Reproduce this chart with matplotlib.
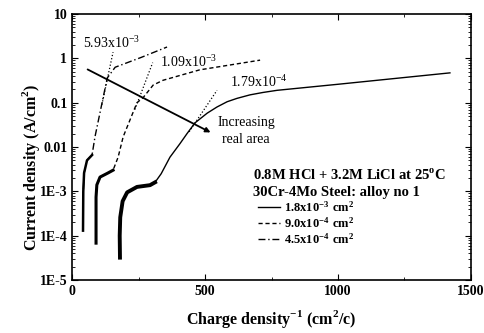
import matplotlib.pyplot as plt
from matplotlib.ticker import FixedLocator, LogLocator, NullFormatter, MultipleLocator

plt.rcParams["font.family"] = ["Liberation Serif", "DejaVu Serif"]
plt.rcParams["mathtext.fontset"] = "custom"
plt.rcParams["mathtext.rm"] = "Liberation Serif"
plt.rcParams["mathtext.bf"] = "Liberation Serif:bold"

# 1.8x10^-3 cm2 (solid)
x_a = [180, 179, 181, 190, 207, 244, 293, 312, 335, 368, 406, 432, 462, 508, 545, 583, 620,
       669, 718, 771, 1000, 1421]
y_a = [3.2e-5, 1e-4, 2.6e-4, 6e-4, 9.5e-4, 1.26e-3, 1.38e-3, 1.6e-3, 2.5e-3, 5.9e-3, 0.012,
       0.02, 0.035, 0.058, 0.08, 0.105, 0.125, 0.15, 0.17, 0.19, 0.26, 0.47]
n_thick_a = 8
# 9.0x10^-4 cm2 (dashed)
x_b = [90, 90, 93, 105, 135, 154, 173, 192, 244, 267, 305, 342, 480, 707]
y_b = [6.8e-5, 7.4e-4, 1.4e-3, 2.1e-3, 2.6e-3, 3.0e-3, 5.9e-3, 0.017, 0.1, 0.13, 0.25,
       0.32, 0.55, 0.91]
n_thick_b = 6
# 4.5x10^-4 cm2 (dash-dot)
x_c = [41, 42, 45, 56, 75, 86, 132, 162, 260, 357]
y_c = [1.3e-4, 1e-3, 2.6e-3, 5e-3, 6.6e-3, 0.017, 0.36, 0.63, 1.05, 1.8]
n_thick_c = 5

# tangents (dotted)
tan_a = ([440, 545], [0.022, 0.19])
tan_b = ([236, 303], [0.07, 0.8])
tan_c = ([112, 154], [0.09, 1.38])

arrow_start = (49, 0.6)
arrow_end = (530, 0.02)

fig, ax = plt.subplots(figsize=(4.84, 3.33), dpi=100)
fig.subplots_adjust(left=0.149, right=0.973, bottom=0.159, top=0.958)

ax.plot(x_a, y_a, "k-", lw=1.0, label=r"$\mathbf{1.8x10^{-3}\ cm^2}$")
ax.plot(x_b, y_b, "k--", lw=1.0, dashes=(3, 2), label=r"$\mathbf{9.0x10^{-4}\ cm^2}$")
ax.plot(x_c, y_c, "k-.", lw=1.0, dashes=(5, 2, 1, 2), label=r"$\mathbf{4.5x10^{-4}\ cm^2}$")
ax.plot(x_a[:n_thick_a], y_a[:n_thick_a], "k-", lw=2.8)
ax.plot(x_b[:n_thick_b], y_b[:n_thick_b], "k-", lw=2.2)
ax.plot(x_c[:n_thick_c], y_c[:n_thick_c], "k-", lw=1.8)

for tx, ty in (tan_a, tan_b, tan_c):
    ax.plot(tx, ty, "k:", lw=0.9)

ax.annotate("", xy=arrow_end, xytext=arrow_start,
            arrowprops=dict(arrowstyle="-|>", color="k", lw=1.3, mutation_scale=7))

ax.text(41, 2.2, r"5.93x10$^{-3}$", fontsize=10, va="center")
ax.text(331, 0.85, r"1.09x10$^{-3}$", fontsize=10, va="center")
ax.text(594, 0.3, r"1.79x10$^{-4}$", fontsize=10, va="center")
ax.text(654, 0.036, "Increasing", fontsize=10, ha="center", va="center")
ax.text(654, 0.0145, "real area", fontsize=10, ha="center", va="center")
ax.text(680, 2.3e-3, r"0.8M HCl + 3.2M LiCl at 25$^{\mathbf{o}}$C", fontsize=10.5,
        fontweight="bold", va="center")
ax.text(680, 9.6e-4, "30Cr-4Mo Steel: alloy no 1", fontsize=10.5,
        fontweight="bold", va="center")

ax.legend(loc="upper left", bbox_to_anchor=(0.45, 0.325), frameon=False,
          fontsize=9, handlelength=1.8, handletextpad=0.3, labelspacing=0.12,
          borderpad=0)

ax.set_yscale("log")
ax.set_xlim(0, 1500)
ax.set_ylim(1e-5, 10)
ax.xaxis.set_major_locator(FixedLocator([0, 500, 1000, 1500]))
ax.xaxis.set_minor_locator(MultipleLocator(250))
ax.set_yticks([1e-5, 1e-4, 1e-3, 1e-2, 1e-1, 1, 10])
ax.set_yticklabels(["1E-5", "1E-4", "1E-3", "0.01", "0.1", "1", "10"])
ax.yaxis.set_minor_locator(LogLocator(base=10, subs=range(2, 10)))
ax.yaxis.set_minor_formatter(NullFormatter())
ax.tick_params(which="both", direction="in", top=True, right=True)
ax.tick_params(which="major", length=4, labelsize=10)
ax.tick_params(which="minor", length=2)
for lbl in ax.get_xticklabels() + ax.get_yticklabels():
    lbl.set_fontweight("bold")
for s in ax.spines.values():
    s.set_linewidth(1.2)

ax.set_xlabel(r"Charge density$^{\mathbf{-1}}$ (cm$^{\mathbf{2}}$/c)", fontsize=11.5,
              fontweight="bold")
ax.set_ylabel(r"Current density (A/cm$^{\mathbf{2}}$)", fontsize=11.5, fontweight="bold")
ax.xaxis.set_label_coords(0.5, -0.105)
ax.yaxis.set_label_coords(-0.075, 0.425)

plt.savefig("out.png", dpi=100)
plt.close()
